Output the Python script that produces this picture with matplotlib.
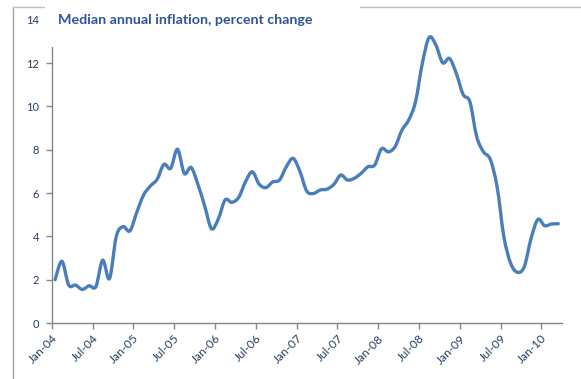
import numpy as np
import matplotlib
matplotlib.use("Agg")
import matplotlib.pyplot as plt
from matplotlib.path import Path
from matplotlib.patches import PathPatch, Rectangle
from matplotlib.lines import Line2D

# monthly median annual inflation, Jan-04 .. Mar-10
inflation = [
    2.0, 2.85, 1.75, 1.75, 1.55, 1.72, 1.68, 2.9, 2.05, 4.0, 4.45, 4.25,
    5.1, 5.9, 6.32, 6.63, 7.32, 7.14, 8.02, 6.9, 7.18, 6.4, 5.4, 4.35,
    4.8, 5.68, 5.57, 5.8, 6.52, 6.98, 6.41, 6.25, 6.51, 6.6, 7.21, 7.6,
    7.0, 6.09, 5.98, 6.14, 6.18, 6.4, 6.83, 6.6, 6.68, 6.91, 7.21, 7.29,
    8.04, 7.9, 8.14, 8.9, 9.37, 10.21, 11.98, 13.18, 12.83, 12.01, 12.21, 11.52,
    10.55, 10.21, 8.6, 7.9, 7.55, 6.29, 3.98, 2.75, 2.34, 2.6, 3.91, 4.78,
    4.49, 4.57, 4.58,
]
tick_labels = ["Jan-04", "Jul-04", "Jan-05", "Jul-05", "Jan-06", "Jul-06", "Jan-07",
               "Jul-07", "Jan-08", "Jul-08", "Jan-09", "Jul-09", "Jan-10"]
title = "Median annual inflation, percent change"

line_color = "#4A7EBB"
text_color = "#243F60"
axis_color = "#868686"

plt.rcParams["font.family"] = ["Lato", "DejaVu Sans"]

fig = plt.figure(figsize=(5.81, 3.79), dpi=100)
ax = fig.add_axes([51.7 / 581, 56 / 379, 510 / 581, 303.3 / 379])


def smooth_path(x, y):
    # Bezier segments with Catmull-Rom style control points (spreadsheet "smoothed line")
    pts = np.column_stack([x, y])
    n = len(pts)
    verts = [pts[0]]
    codes = [Path.MOVETO]
    for i in range(n - 1):
        p0 = pts[max(i - 1, 0)]
        p1 = pts[i]
        p2 = pts[i + 1]
        p3 = pts[min(i + 2, n - 1)]
        verts += [p1 + (p2 - p0) / 6, p2 - (p3 - p1) / 6, p2]
        codes += [Path.CURVE4] * 3
    return Path(verts, codes)


x = np.arange(len(inflation))
ax.add_patch(PathPatch(smooth_path(x, np.array(inflation)), fill=False,
                       edgecolor=line_color, linewidth=2.4, capstyle="round",
                       joinstyle="round"))

ax.set_xlim(-0.5, len(inflation) - 0.5)
ax.set_ylim(0, 14)
ax.set_yticks(range(0, 15, 2))
ax.set_xticks(np.arange(len(tick_labels)) * 6 - 0.5)
ax.set_xticklabels(tick_labels, rotation=45, ha="right", va="top",
                   rotation_mode="anchor")

for s in ["top", "right"]:
    ax.spines[s].set_visible(False)
for s in ["left", "bottom"]:
    ax.spines[s].set_color(axis_color)
    ax.spines[s].set_linewidth(1.0)
ax.tick_params(axis="both", colors=axis_color, labelcolor=text_color,
               labelsize=8, length=4, width=1.0, direction="out")
ax.tick_params(axis="y", pad=5)
ax.tick_params(axis="x", pad=3, labelsize=8.6)

# chart frame: left edge and broken top edge
fig.add_artist(Line2D([13 / 581, 13 / 581], [0, 1 - 7 / 379],
                      color="#A6A6A6", linewidth=1.0, transform=fig.transFigure))
fig.add_artist(Line2D([13 / 581, 1], [1 - 7 / 379, 1 - 7 / 379],
                      color="#BFBFBF", linewidth=1.0, transform=fig.transFigure))

# title box sits over the top of the plot area
fig.add_artist(Rectangle((45 / 581, 1 - 47 / 379), (360 - 45) / 581, 47 / 379,
                         facecolor="white", edgecolor="none",
                         transform=fig.transFigure, zorder=5))
fig.text(58 / 581, 1 - 20 / 379, title, color="#2F5597", fontsize=10.3,
         fontweight="bold", ha="left", va="center", zorder=6)

fig.savefig("out.png", dpi=100)
